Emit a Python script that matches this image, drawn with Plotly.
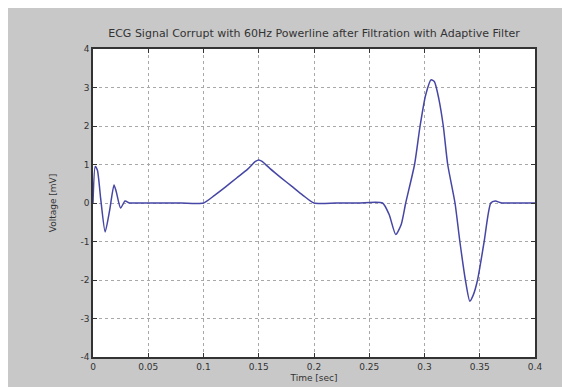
import plotly.graph_objects as go

# Time samples [sec] and voltage [mV]
time_s = [0.0, 0.002, 0.004, 0.007, 0.011, 0.015, 0.019, 0.021, 0.025, 0.029, 0.033, 0.04,
          0.06, 0.08, 0.1, 0.11, 0.12, 0.13, 0.14, 0.147, 0.15, 0.153, 0.16, 0.17, 0.18,
          0.19, 0.2, 0.22, 0.24, 0.262, 0.268, 0.274, 0.279, 0.283, 0.291, 0.296, 0.301,
          0.306, 0.309, 0.313, 0.317, 0.321, 0.3276, 0.332, 0.337, 0.341, 0.344, 0.348,
          0.354, 0.36, 0.364, 0.37, 0.38, 0.4]
voltage_mv = [0.0, 0.95, 0.85, 0.1, -0.75, -0.2, 0.47, 0.3, -0.13, 0.05, 0.0, 0.0,
              0.0, 0.0, 0.0, 0.2, 0.42, 0.65, 0.88, 1.08, 1.12, 1.08, 0.9, 0.66, 0.43,
              0.2, 0.0, 0.0, 0.0, 0.0, -0.3, -0.82, -0.55, 0.0, 1.0, 2.0, 2.8,
              3.2, 3.15, 2.7, 2.0, 1.0, 0.0, -1.0, -2.0, -2.55, -2.4, -2.0,
              -1.0, 0.0, 0.05, 0.0, 0.0, 0.0]

x_ticks = [0, 0.05, 0.1, 0.15, 0.2, 0.25, 0.3, 0.35, 0.4]
x_tick_labels = ["0", "0.05", "0.1", "0.15", "0.2", "0.25", "0.3", "0.35", "0.4"]
y_ticks = [-4, -3, -2, -1, 0, 1, 2, 3, 4]
y_tick_labels = ["-4", "-3", "-2", "-1", "0", "1", "2", "3", "4"]

W, H = 570, 387
L, R, T, B = 85, 43, 41, 38
pw, ph = W - L - R, H - T - B

fig = go.Figure()
fig.add_trace(go.Scatter(x=time_s, y=voltage_mv, mode="lines",
                         line=dict(color="rgb(70,70,165)", width=1.5, shape="spline",
                                   smoothing=0.6),
                         showlegend=False))

font = dict(family="DejaVu Sans, Liberation Sans, sans-serif", size=9, color="#333333")
title_font = dict(family="DejaVu Sans, Liberation Sans, sans-serif", size=11, color="#333333")
axis_common = dict(showgrid=True, gridcolor="#a8a8a8", griddash="dot", gridwidth=1,
                   showline=True, linecolor="#333333", linewidth=1.5, mirror="ticks",
                   ticks="inside", ticklen=4, tickcolor="#333333", zeroline=False,
                   tickfont=font)

fig.update_layout(
    width=W, height=H,
    margin=dict(l=L, r=R, t=T, b=B),
    paper_bgcolor="#c8c8c8", plot_bgcolor="white",
    title=dict(text="ECG Signal Corrupt with 60Hz Powerline after Filtration with Adaptive Filter",
               x=(L + pw / 2) / W, xanchor="center", y=1 - 25 / H, yanchor="middle",
               font=title_font),
    xaxis=dict(range=[0, 0.4], tickvals=x_ticks, ticktext=x_tick_labels,
               title=dict(text="Time [sec]", font=font, standoff=4), **axis_common),
    yaxis=dict(range=[-4, 4], tickvals=y_ticks, ticktext=y_tick_labels,
               title=dict(text="Voltage [mV]", font=font, standoff=22), **axis_common),
)

fig.write_html("out.html")
